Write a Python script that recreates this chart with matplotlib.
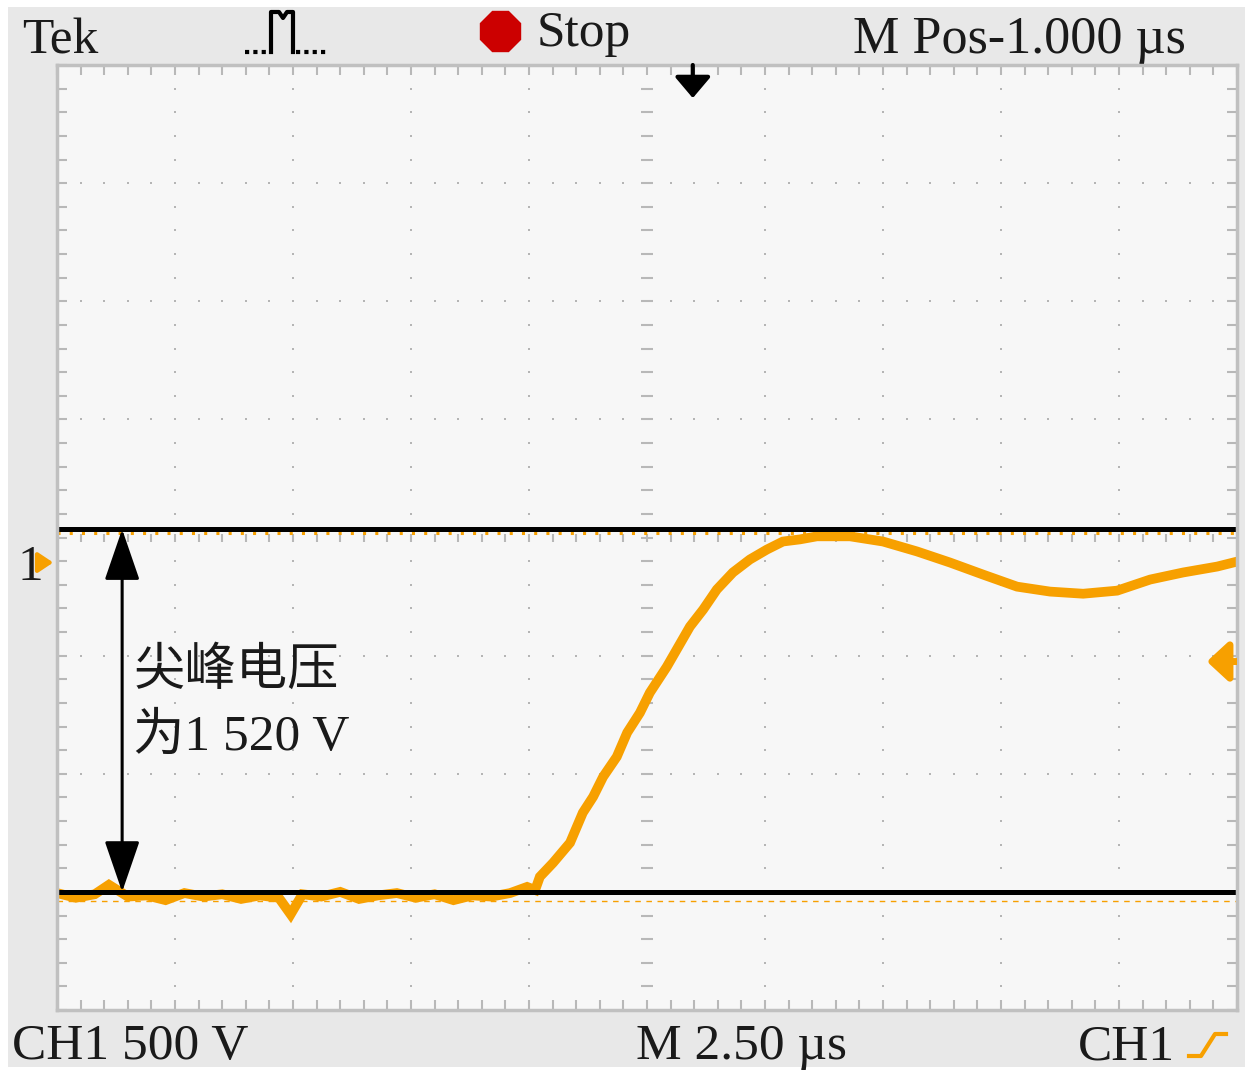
import numpy as np
import matplotlib.pyplot as plt
from matplotlib.patches import Rectangle

# CH1 trace, time in us across the screen (2.50 us/div), volts (500 V/div)
time_us = [0.0, 0.4, 0.8, 1.1, 1.5, 1.9, 2.3, 2.7, 3.1, 3.5, 3.9, 4.3, 4.7, 4.95,
           5.2, 5.6, 6.0, 6.4, 6.8, 7.2, 7.6, 8.0, 8.4, 8.8, 9.2, 9.6,
           9.96, 10.13, 10.23, 10.51, 10.87, 11.14, 11.36, 11.57, 11.86, 12.08,
           12.35, 12.56, 12.92, 13.41, 13.69, 13.98, 14.32, 14.68, 15.04, 15.38,
           15.74, 16.10, 16.80, 17.50, 18.22, 18.92, 19.62, 20.34, 21.04, 21.74,
           22.46, 23.16, 23.86, 24.58, 24.92]
ch1_volts = [-5, -25, -10, 30, -20, -15, -35, -5, -20, -10, -30, -15, -25, -95,
             -10, -20, 0, -30, -15, -5, -25, -10, -35, -15, -20, -5,
             21, 8, 64, 123, 208, 335, 403, 487, 572, 674,
             758, 843, 953, 1123, 1195, 1280, 1352, 1407, 1449, 1483,
             1492, 1505, 1505, 1483, 1441, 1394, 1343, 1292, 1271, 1262,
             1275, 1322, 1352, 1377, 1394]

base_line = 0        # black marking lines
peak_line = 1535
cursor_top = 1517    # orange cursors
cursor_bot = -38
ground_level = 1394  # "1" marker
trig_level = 975
trig_time = 13.47
spike_label = ["尖峰电压", "为1 520 V"]

W, H = 1250, 1077
orange = "#f7a000"
serif = ["Liberation Serif", "Noto Sans CJK SC"]

fig = plt.figure(figsize=(W / 100, H / 100), dpi=100, facecolor="white")

# background layer in pixel coords (origin top-left)
bg = fig.add_axes([0, 0, 1, 1])
bg.set_xlim(0, W)
bg.set_ylim(H, 0)
bg.axis("off")
bg.add_patch(Rectangle((8, 7), 1237, 1060, color="#e8e8e8", lw=0))

bg.text(22, 53, "Tek", fontsize=37, family=serif, color="#1a1a1a")
bg.text(537, 46, "Stop", fontsize=37, family=serif, color="#1a1a1a")
bg.text(853, 53, "M Pos-1.000 µs", fontsize=37.5, family=serif, color="#1a1a1a")
bg.text(12, 1059, "CH1 500 V", fontsize=37, family=serif, color="#1a1a1a")
bg.text(636, 1059, "M 2.50 µs", fontsize=37, family=serif, color="#1a1a1a")
bg.text(1078, 1059, "CH1", fontsize=37, family=serif, color="#1a1a1a")
bg.text(17, 580, "1", fontsize=37, family=serif, color="#1a1a1a")

# stop dot and acquisition icon
bg.plot(500, 31, "8", ms=31, color="#cc0000")
bg.plot([245, 269], [52, 52], color="black", lw=3, ls=(0, (1, 1)))
bg.plot([271, 271, 279, 283, 287, 293, 293], [52, 12, 12, 18, 12, 12, 52], color="black", lw=3)
bg.plot([296, 327], [52, 52], color="black", lw=3, ls=(0, (1, 1)))
# trigger slope icon
bg.plot([1189, 1201, 1215, 1226], [1056, 1056, 1034, 1034], color=orange, lw=3)

# graticule
ax = fig.add_axes([57 / W, 1 - 1010 / H, 1180 / W, 945 / H])
ax.set_facecolor("#f7f7f7")
ax.set_xlim(0, 25)
ax.set_ylim(-500, 3500)
for s in ax.spines.values():
    s.set_color("#c0c0c0")
    s.set_linewidth(2.5)
ax.set_xticks(np.arange(0, 25.01, 0.5))
ax.set_yticks(np.arange(-500, 3501, 100))
ax.tick_params(direction="in", length=7, width=1.5, color="#b8b8b8",
               top=True, right=True, labelbottom=False, labelleft=False)

minor_t = np.arange(0.5, 25, 0.5)
minor_v = np.arange(-400, 3500, 100)
dot = dict(ls="none", marker="s", ms=2, color="#b5b5b5", mew=0)
for xt in [2.5, 5, 7.5, 10, 15, 17.5, 20, 22.5]:
    ax.plot(np.full(len(minor_v), xt), minor_v, **dot)
for yv in [0, 500, 1000, 2000, 2500, 3000]:
    ax.plot(minor_t, np.full(len(minor_t), yv), **dot)
ax.plot(np.full(len(minor_v), 12.5), minor_v, ls="none", marker="_", ms=9, mew=1.5, color="#b8b8b8")
ax.plot(minor_t, np.full(len(minor_t), 1500), ls="none", marker="|", ms=6, mew=1.5, color="#b8b8b8")

# cursors and trace
ax.axhline(cursor_top, color=orange, lw=2.2, ls=(0, (1, 3)))
ax.axhline(cursor_bot, color=orange, lw=1, ls=(0, (4, 4)))
ax.plot(time_us, ch1_volts, color=orange, lw=7, solid_joinstyle="miter")
ax.axhline(base_line, color="black", lw=3.6)
ax.axhline(peak_line, color="black", lw=3.6)

ax.annotate("", xy=(1.38, base_line), xytext=(1.38, peak_line),
            arrowprops=dict(arrowstyle="<|-|>,head_length=1.6,head_width=0.55",
                            mutation_scale=20, lw=2.2, color="black",
                            shrinkA=0, shrinkB=0))
ax.text(1.62, 932, spike_label[0], fontsize=37, family=serif, va="center", color="#1a1a1a")
ax.text(1.62, 653, spike_label[1], fontsize=37, family=serif, va="center", color="#1a1a1a")

# trigger position and trigger level markers
ax.annotate("", xy=(trig_time, 3360), xytext=(trig_time, 3500),
            arrowprops=dict(arrowstyle="-|>,head_length=0.65,head_width=0.55",
                            mutation_scale=20, lw=3, color="black",
                            shrinkA=0, shrinkB=0), annotation_clip=False)
ax.annotate("", xy=(24.36, trig_level), xytext=(25.0, trig_level),
            arrowprops=dict(arrowstyle="-|>,head_length=0.65,head_width=0.6",
                            mutation_scale=20, lw=5, color=orange, capstyle="butt",
                            shrinkA=0, shrinkB=0), annotation_clip=False)
ax.annotate("", xy=(-0.08, ground_level), xytext=(-0.4, ground_level),
            arrowprops=dict(arrowstyle="-|>,head_length=0.9,head_width=0.6",
                            mutation_scale=10, lw=3, color=orange,
                            shrinkA=0, shrinkB=0), annotation_clip=False)

fig.savefig("out.png", dpi=100, facecolor="white")
